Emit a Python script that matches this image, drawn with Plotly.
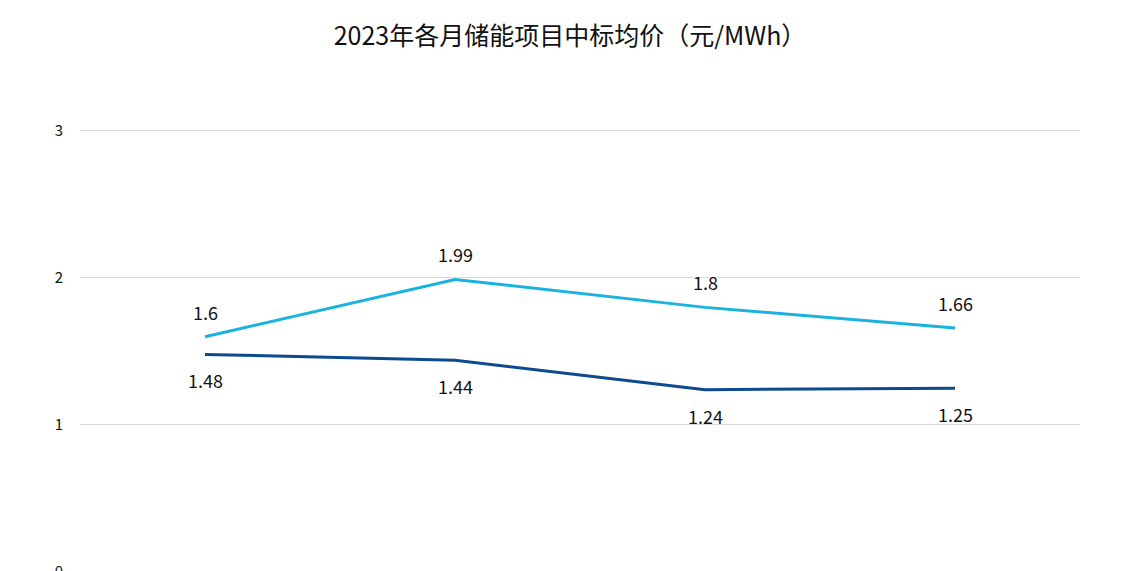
# 2023年各月储能项目中标均价 折线图

import plotly.graph_objects as go

months = ["1月", "2月", "3月", "4月"]
epc_price = [1.6, 1.99, 1.8, 1.66]
system_price = [1.48, 1.44, 1.24, 1.25]
y_ticks = [0, 1, 2, 3]

light_blue = "#1ab3e0"
dark_blue = "#0c4a8f"

fig = go.Figure()
fig.add_trace(go.Scatter(x=months, y=epc_price, name="储能EPC", mode="lines",
                         line=dict(color=light_blue, width=3)))
fig.add_trace(go.Scatter(x=months, y=system_price, name="储能系统", mode="lines",
                         line=dict(color=dark_blue, width=3)))

# 数据标签：上方线标在上，下方线标在下
for m, v in zip(months, epc_price):
    fig.add_annotation(x=m, y=v, text=str(v), showarrow=False, yshift=25,
                       font=dict(size=18, color="#111111"))
for m, v in zip(months, system_price):
    fig.add_annotation(x=m, y=v, text=str(v), showarrow=False, yshift=-26,
                       font=dict(size=18, color="#111111"))

fig.update_layout(
    width=1140, height=571,
    margin=dict(l=72, r=68, t=119, b=6),
    paper_bgcolor="white", plot_bgcolor="white",
    font=dict(family="Noto Sans CJK SC", size=15, color="#111111"),
    title=dict(text="2023年各月储能项目中标均价（元/MWh）", x=562 / 1140, xanchor="center",
               y=1 - 28 / 571, yanchor="middle", font=dict(size=25, color="#111111")),
    showlegend=False,
    xaxis=dict(type="category", range=[-0.5, 3.5], showgrid=False, zeroline=False,
               showline=False, ticks="", showticklabels=False),
    yaxis=dict(range=[-0.007, 3.027], tickvals=y_ticks, showgrid=True, gridcolor="#d9d9d9",
               gridwidth=1, zeroline=False, showline=False, ticks="", automargin=False,
               ticklabelstandoff=16, ticklabeloverflow="allow", tickfont=dict(size=15)),
)

fig.write_html("out.html")
